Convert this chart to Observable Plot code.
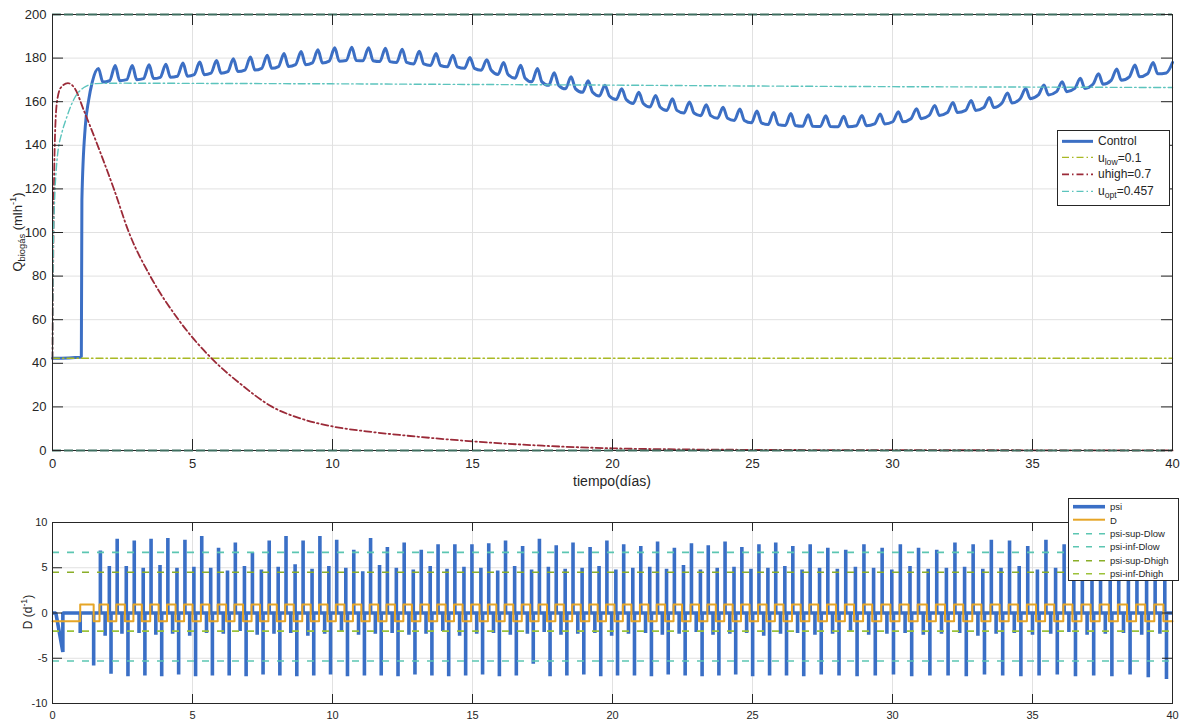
<!DOCTYPE html>
<html><head><meta charset="utf-8">
<script src="https://cdn.jsdelivr.net/npm/d3@7"></script>
<script src="https://cdn.jsdelivr.net/npm/@observablehq/plot@0.6"></script>
<style>
body{margin:0;background:#fff;}
#wrap{position:relative;width:1183px;height:725px;overflow:hidden;font-family:"Liberation Sans",Arial,Helvetica,sans-serif;color:#262626;background:#fff;}
#topc,#botc{position:absolute;left:0;}
#topc{top:0;} #botc{top:495px;}
.legend{position:absolute;background:#fff;border:1px solid #262626;box-sizing:border-box;}
.row{display:flex;align-items:center;white-space:nowrap;}
.row svg{flex:none;}
.lab{position:absolute;white-space:nowrap;transform:translate(-50%,-50%) rotate(-90deg);}
.xl{position:absolute;white-space:nowrap;transform:translate(-50%,-50%);}
sub,sup{font-size:72%;line-height:0;}
</style></head>
<body><div id="wrap"><div id="topc"></div><div id="botc"></div></div>
<script>
// ---------- tick values ----------
const xTicks = [0, 5, 10, 15, 20, 25, 30, 35, 40];
const qTicks = [0, 20, 40, 60, 80, 100, 120, 140, 160, 180, 200];
const dTicks = [-10, -5, 0, 5, 10];

// ---------- top chart: Q biogas ----------
const ctrlStartT = [0, 1.00, 1.03, 1.05, 1.17, 1.29, 1.42];
const ctrlStartV = [42.3, 42.8, 43.2, 115, 148.5, 160.6, 169.0];
// switching instants (D goes high)
const cycleT = [1.68, 2.28, 2.89, 3.49, 4.09, 4.70, 5.30, 5.90, 6.50, 7.11, 7.71, 8.31, 8.92, 9.52, 10.12, 10.73, 11.33, 11.93, 12.53, 13.14, 13.74, 14.34, 14.95, 15.55, 16.15, 16.76, 17.36, 17.96, 18.56, 19.17, 19.77, 20.37, 20.98, 21.58, 22.18, 22.79, 23.39, 23.99, 24.59, 25.20, 25.80, 26.41, 27.03, 27.66, 28.30, 28.95, 29.60, 30.25, 30.90, 31.55, 32.20, 32.85, 33.50, 34.15, 34.80, 35.45, 36.10, 36.75, 37.40, 38.05, 38.70, 39.35];
const ctrlPeak = [175.2, 176.6, 176.6, 176.9, 177.2, 177.7, 178.2, 178.9, 179.7, 180.5, 181.3, 182.1, 183.0, 183.8, 184.7, 185.0, 184.8, 184.5, 184.1, 183.1, 182.1, 181.3, 180.3, 179.2, 178.0, 176.7, 175.2, 173.3, 171.4, 169.6, 167.6, 165.9, 164.3, 162.9, 161.3, 159.9, 158.6, 157.4, 156.6, 155.7, 155.1, 154.6, 154.0, 153.6, 153.3, 153.7, 154.4, 155.4, 156.8, 158.3, 159.6, 160.6, 161.9, 164.0, 166.0, 167.7, 169.2, 170.7, 172.8, 175.0, 176.8, 178.0];
const ctrlTrough = [169.0, 169.6, 170.1, 170.6, 171.2, 171.7, 172.4, 173.1, 173.8, 174.5, 175.3, 176.1, 177.0, 177.8, 178.6, 178.9, 178.8, 178.4, 178.0, 177.3, 176.6, 176.0, 175.3, 174.4, 172.5, 170.8, 169.1, 167.5, 165.9, 164.3, 162.6, 161.0, 159.2, 157.6, 156.0, 154.8, 153.6, 152.4, 151.4, 150.3, 149.5, 149.1, 148.7, 148.6, 148.5, 149.0, 149.8, 150.8, 152.2, 153.7, 155.0, 156.0, 157.3, 159.4, 161.4, 163.1, 164.6, 166.1, 168.0, 169.8, 171.4, 172.8];
const ctrlEndT = [39.78, 40];
const ctrlEndV = [173.2, 178.0];

const uLowT = [0, 40];
const uLowV = [42.3, 42.3];
const uHighT = [0, 0.03, 0.08, 0.16, 0.30, 0.55, 0.80, 1.12, 1.70, 2.20, 2.73, 3.50, 4.50, 5.70, 6.70, 7.85, 8.86, 10.05, 11.2, 12.5, 15, 17.5, 20, 22.5, 25, 30, 35, 40];
const uHighV = [42, 95, 140, 160, 166.5, 168.5, 166, 156, 137, 119.7, 100, 79.8, 60, 42, 30.7, 20, 14.7, 10.9, 8.8, 7.0, 4.2, 2.2, 1.0, 0.5, 0.3, 0.15, 0.1, 0.05];
const uOptT = [0, 0.03, 0.16, 0.34, 0.46, 0.76, 1.12, 1.55, 2.5, 5, 10, 15, 20, 25, 30, 35, 40];
const uOptV = [42, 95, 133, 146, 151, 161, 166.5, 168.3, 168.5, 168.4, 168.2, 167.9, 167.6, 167.2, 166.9, 166.7, 166.5];
const qLimits = [0, 200];

// ---------- bottom chart: D and psi ----------
const dHigh = 0.95, dLow = -0.9;
const dPreT = [0, 0.99, 1.47];
const dPreV = [-0.9, 0.95, -0.9];
const psiPreT = [0, 0.12, 0.37, 0.37, 0.99, 0.99, 0.99, 1.47, 1.47, 1.47];
const psiPreV = [0, 0, -4.3, 0, 0, -2.2, 0, 0, -5.8, 0];
const psiTall = [6.9, 8.2, 8.0, 8.2, 8.3, 8.1, 8.5, 7.2, 7.8, 6.7, 8.0, 8.5, 8.0, 8.5, 8.1, 7.0, 8.3, 7.3, 7.8, 7.0, 7.6, 7.6, 7.6, 7.7, 8.0, 7.4, 8.2, 7.5, 7.8, 7.3, 8.0, 7.6, 7.4, 7.9, 7.2, 7.7, 7.5, 7.9, 7.3, 7.6, 7.8, 7.4, 7.6, 7.2, 7.0, 7.6, 7.2, 7.6, 7.2, 7.0, 7.8, 7.6, 8.1, 8.0, 7.4, 8.1, 7.6, 7.2, 7.5, 7.0, 7.3, 6.8];
const psiSmall = [-2.5, -2.3, -2.2, -2.4, -2.3, -2.5, -2.2, -2.3, -2.0, -2.4, -2.3, -2.2, -2.5, -2.3, -2.1, -2.4, -2.3, -2.2, -2.4, -2.3, -2.0, -2.5, -2.3, -2.2, -2.4, -2.3, -2.1, -2.4, -2.3, -2.2, -2.5, -2.3, -2.2, -2.4, -2.3, -2.1, -2.4, -2.3, -2.2, -2.5, -2.3, -2.2, -2.4, -2.3, -2.1, -2.4, -2.3, -2.2, -2.4, -2.3, -2.2, -2.5, -2.3, -2.2, -2.4, -2.3, -2.1, -2.4, -2.3, -2.2, -2.4, -2.3];
const psiMed = [5.2, 5.2, 5.0, 5.3, 5.0, 5.1, 5.0, 4.7, 5.2, 4.8, 5.1, 5.4, 4.9, 5.2, 5.0, 4.6, 5.3, 5.0, 4.8, 5.2, 4.9, 5.1, 5.0, 4.7, 5.2, 4.8, 5.1, 4.9, 5.0, 5.2, 4.8, 5.0, 5.1, 4.9, 5.3, 4.8, 5.0, 5.1, 4.9, 5.0, 5.2, 4.8, 5.0, 4.9, 5.1, 5.0, 4.8, 5.2, 4.9, 5.0, 5.1, 4.9, 5.0, 5.2, 4.8, 5.0, 5.1, 4.9, 5.0, 4.8, 5.1, 5.0];
const psiBig = [-6.7, -7.0, -6.9, -7.0, -6.8, -7.0, -6.9, -6.9, -7.0, -6.8, -6.9, -7.0, -6.9, -6.8, -7.0, -6.9, -6.9, -7.0, -6.8, -6.9, -7.0, -6.9, -6.8, -7.0, -6.9, -5.6, -7.0, -6.9, -6.8, -7.0, -6.9, -6.9, -7.0, -6.8, -6.9, -7.0, -6.9, -6.8, -7.0, -6.9, -6.9, -7.0, -6.8, -6.9, -7.0, -6.9, -6.8, -7.0, -6.9, -6.9, -7.0, -6.8, -6.9, -7.0, -6.9, -6.8, -7.0, -6.9, -7.0, -6.8, -7.1, -7.3];
const psiSupDlow = 6.7, psiInfDlow = -5.3, psiSupDhigh = 4.5, psiInfDhigh = -2.0;

// ---------- colours ----------
const C = {
  control: "#3c6fc4", ulow: "#a9b924", uhigh: "#9b2a38", uopt: "#5cc4bd", limit: "#3f6f60",
  psi: "#3a6fc6", D: "#e6a526", teal: "#5cc6b2", olive: "#8aae28", olive2: "#9cc23a",
  grid: "#e1e1e1", axis: "#262626"
};
const dashDot = "7,3,1.5,3";
const dash = "7,8";

// ---------- build series ----------
const ctrl = ctrlStartT.map((t, i) => ({t, v: ctrlStartV[i]}));
cycleT.forEach((c, k) => {
  const tp = c - 0.04;
  if (k > 0) ctrl.push({t: tp - 0.2, v: ctrlTrough[k]});
  ctrl.push({t: tp, v: ctrlPeak[k]});
  ctrl.push({t: tp + 0.16, v: ctrlTrough[k]});
});
ctrlEndT.forEach((t, i) => ctrl.push({t, v: ctrlEndV[i]}));

const pairs = (T, V) => T.map((t, i) => ({t, v: V[i]}));
const uLow = pairs(uLowT, uLowV), uHigh = pairs(uHighT, uHighV), uOpt = pairs(uOptT, uOptV);

const dData = pairs(dPreT, dPreV);
const psi = pairs(psiPreT, psiPreV);
cycleT.forEach((c, k) => {
  const next = k + 1 < cycleT.length ? cycleT[k + 1] : c + (c - cycleT[k - 1]);
  const fall = (c + next) / 2;
  dData.push({t: c, v: dHigh}, {t: fall, v: dLow});
  [[c + 0.03, psiTall[k]], [c + 0.20, psiSmall[k]], [fall + 0.05, psiMed[k]], [fall + 0.11, psiBig[k]]]
    .forEach(([t, v]) => psi.push({t, v: 0}, {t, v}, {t, v: 0}));
});
dData.push({t: 40, v: dLow});
psi.push({t: 40, v: 0});

const font = "'Liberation Sans', Arial, Helvetica, sans-serif";

// ---------- top plot ----------
const W = 1183, ML = 52, MR = 11;
const H1 = 492, MT1 = 14, MB1 = 42, PH1 = H1 - MT1 - MB1, PW = W - ML - MR;
const tk = 11;
const topChart = Plot.plot({
  width: W, height: H1, marginLeft: ML, marginRight: MR, marginTop: MT1, marginBottom: MB1,
  x: {domain: [0, 40]}, y: {domain: [0, 200]},
  style: {fontFamily: font, fontSize: "13px", color: C.axis, background: "#fff", overflow: "visible"},
  marks: [
    Plot.ruleX(xTicks, {x: d => d, stroke: C.grid, strokeWidth: 1}),
    Plot.ruleY(qTicks, {y: d => d, stroke: C.grid, strokeWidth: 1}),
    Plot.line(ctrl, {x: "t", y: "v", stroke: C.control, strokeWidth: 3, curve: "monotone-x"}),
    Plot.line(uLow, {x: "t", y: "v", stroke: C.ulow, strokeWidth: 1.4, strokeDasharray: dashDot}),
    Plot.line(uHigh, {x: "t", y: "v", stroke: C.uhigh, strokeWidth: 1.8, strokeDasharray: dashDot, curve: "monotone-x"}),
    Plot.line(uOpt, {x: "t", y: "v", stroke: C.uopt, strokeWidth: 1.4, strokeDasharray: dashDot, curve: "monotone-x"}),
    Plot.frame({stroke: C.axis, strokeWidth: 1}),
    Plot.ruleY(qLimits, {y: d => d, stroke: C.limit, strokeWidth: 2, strokeDasharray: "9,3"}),
    Plot.tickX(xTicks, {x: d => d, insetTop: PH1 - tk, stroke: C.axis}),
    Plot.tickX(xTicks, {x: d => d, insetBottom: PH1 - tk, stroke: C.axis}),
    Plot.tickY(qTicks, {y: d => d, insetRight: PW - tk, stroke: C.axis}),
    Plot.tickY(qTicks, {y: d => d, insetLeft: PW - tk, stroke: C.axis}),
    Plot.axisX({ticks: xTicks, tickSize: 0, tickPadding: 8, tickFormat: d => String(d), label: null, fontSize: 13}),
    Plot.axisY({ticks: qTicks, tickSize: 0, tickPadding: 6, tickFormat: d => String(d), label: null, fontSize: 13})
  ]
});
document.getElementById("topc").appendChild(topChart);

// ---------- bottom plot ----------
const H2 = 230, MT2 = 27, MB2 = 22, PH2 = H2 - MT2 - MB2;
const botChart = Plot.plot({
  width: W, height: H2, marginLeft: ML, marginRight: MR, marginTop: MT2, marginBottom: MB2,
  x: {domain: [0, 40]}, y: {domain: [-10, 10]},
  style: {fontFamily: font, fontSize: "11px", color: C.axis, background: "#fff", overflow: "visible"},
  marks: [
    Plot.ruleX(xTicks, {x: d => d, stroke: C.grid, strokeWidth: 1}),
    Plot.ruleY(dTicks, {y: d => d, stroke: C.grid, strokeWidth: 1}),
    Plot.line(psi, {x: "t", y: "v", stroke: C.psi, strokeWidth: 3.6, strokeLinejoin: "miter", strokeLinecap: "butt", strokeMiterlimit: 1}),
    Plot.line(dData, {x: "t", y: "v", stroke: C.D, strokeWidth: 2, curve: "step-after"}),
    Plot.ruleY([psiSupDlow], {y: d => d, stroke: C.teal, strokeWidth: 1.6, strokeDasharray: dash}),
    Plot.ruleY([psiInfDlow], {y: d => d, stroke: C.teal, strokeWidth: 1.6, strokeDasharray: dash}),
    Plot.ruleY([psiSupDhigh], {y: d => d, stroke: C.olive, strokeWidth: 1.6, strokeDasharray: dash}),
    Plot.ruleY([psiInfDhigh], {y: d => d, stroke: C.olive2, strokeWidth: 1.6, strokeDasharray: dash}),
    Plot.frame({stroke: C.axis, strokeWidth: 1}),
    Plot.tickX(xTicks, {x: d => d, insetTop: PH2 - 9, stroke: C.axis}),
    Plot.tickX(xTicks, {x: d => d, insetBottom: PH2 - 9, stroke: C.axis}),
    Plot.tickY(dTicks, {y: d => d, insetRight: PW - 10, stroke: C.axis}),
    Plot.tickY(dTicks, {y: d => d, insetLeft: PW - 10, stroke: C.axis}),
    Plot.axisX({ticks: xTicks, tickSize: 0, tickPadding: 8, tickFormat: d => String(d), label: null, fontSize: 11}),
    Plot.axisY({ticks: dTicks, tickSize: 0, tickPadding: 5, tickFormat: d => String(d), label: null, fontSize: 11})
  ]
});
document.getElementById("botc").appendChild(botChart);

// ---------- labels & legends (HTML overlays) ----------
const wrap = document.getElementById("wrap");
function add(html, cls, style) {
  const el = document.createElement("div");
  el.className = cls; el.innerHTML = html; Object.assign(el.style, style);
  wrap.appendChild(el); return el;
}
add("Q<sub>biogás</sub> (mlh<sup>-1</sup>)", "lab", {left: "17px", top: "232px", fontSize: "13px"});
add("tiempo(días)", "xl", {left: "612px", top: "481px", fontSize: "14px"});
add("D (d<sup>-1</sup>)", "lab", {left: "28px", top: "612px", fontSize: "12px"});

function legend(items, o) {
  const box = add("", "legend", {left: o.left + "px", top: o.top + "px", width: o.width + "px", height: o.height + "px",
    paddingTop: o.padTop + "px", fontSize: o.fontSize + "px"});
  items.forEach(it => {
    const row = document.createElement("div");
    row.className = "row"; row.style.height = o.rowH + "px"; row.style.paddingLeft = o.padLeft + "px";
    const svg = d3.create("svg").attr("width", o.sampleW).attr("height", o.rowH);
    svg.append("line").attr("x1", 0).attr("x2", o.sampleW).attr("y1", o.rowH / 2).attr("y2", o.rowH / 2)
      .attr("stroke", it.color).attr("stroke-width", it.width).attr("stroke-dasharray", it.dash || null);
    row.appendChild(svg.node());
    const sp = document.createElement("span"); sp.innerHTML = it.label; sp.style.marginLeft = o.gap + "px";
    row.appendChild(sp);
    box.appendChild(row);
  });
}
legend([
  {label: "Control", color: C.control, width: 3},
  {label: "u<sub>low</sub>=0.1", color: C.ulow, width: 1.4, dash: dashDot},
  {label: "uhigh=0.7", color: C.uhigh, width: 1.8, dash: dashDot},
  {label: "u<sub>opt</sub>=0.457", color: C.uopt, width: 1.4, dash: dashDot}
], {left: 1057, top: 130, width: 113, height: 76, padTop: 1.5, rowH: 16.7, padLeft: 4, sampleW: 31, gap: 5, fontSize: 12});
legend([
  {label: "psi", color: C.psi, width: 3.6},
  {label: "D", color: C.D, width: 2},
  {label: "psi-sup-Dlow", color: C.teal, width: 1.6, dash: "6,7"},
  {label: "psi-inf-Dlow", color: C.teal, width: 1.6, dash: "6,7"},
  {label: "psi-sup-Dhigh", color: C.olive, width: 1.6, dash: "6,7"},
  {label: "psi-inf-Dhigh", color: C.olive2, width: 1.6, dash: "6,7"}
], {left: 1068, top: 498, width: 111, height: 83, padTop: 1, rowH: 13.4, padLeft: 4, sampleW: 32, gap: 5, fontSize: 9.5});
</script></body></html>
